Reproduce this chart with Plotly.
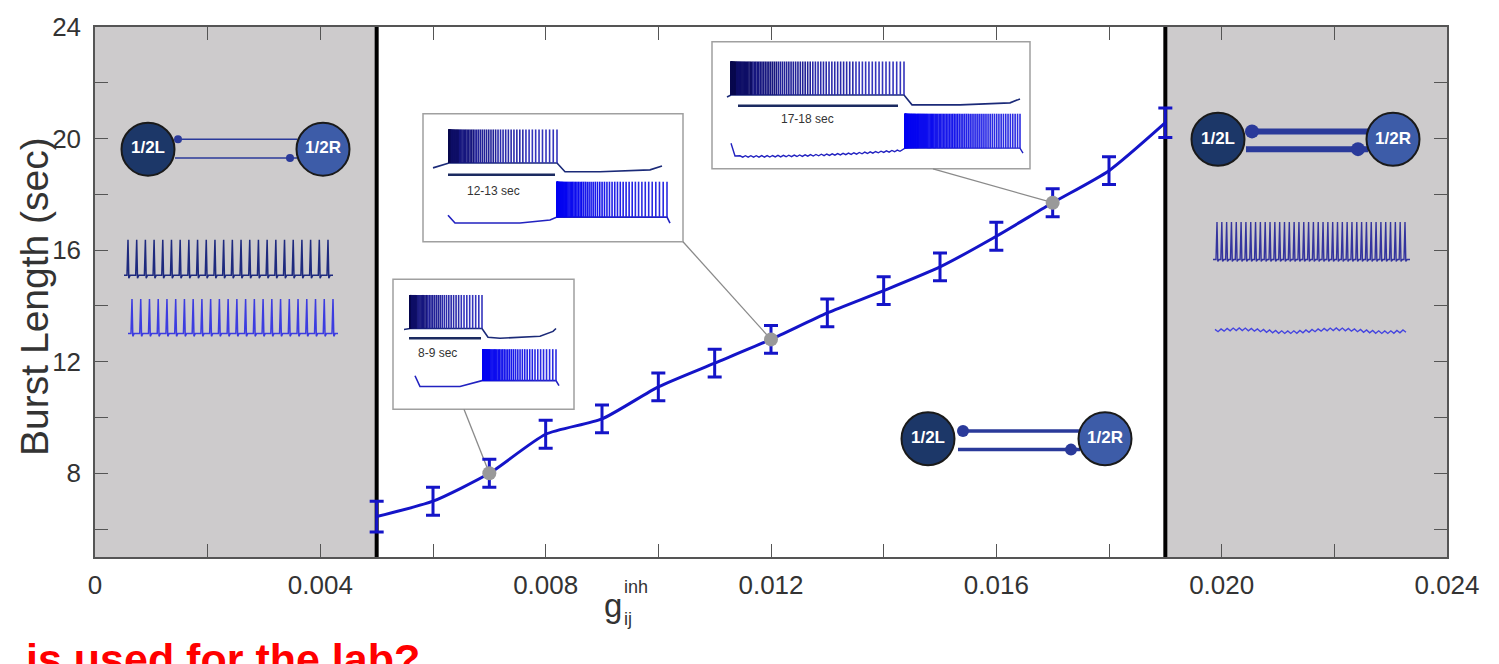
import numpy as np
import plotly.graph_objects as go

# ---------------- data ----------------
g_inh = [0.005, 0.006, 0.007, 0.008, 0.009, 0.010, 0.011, 0.012,
         0.013, 0.014, 0.015, 0.016, 0.017, 0.018, 0.019]
burst_len = [6.45, 7.0, 8.0, 9.4, 9.95, 11.1, 11.95, 12.8,
             13.75, 14.55, 15.4, 16.5, 17.7, 18.85, 20.57]
burst_sd = [0.55, 0.5, 0.5, 0.5, 0.5, 0.5, 0.5, 0.5,
            0.5, 0.5, 0.5, 0.5, 0.5, 0.5, 0.53]
example_g = [0.007, 0.012, 0.017]
example_len = [8.0, 12.8, 17.7]
example_labels = ["8-9 sec", "12-13 sec", "17-18 sec"]
x_tickvals = [0, 0.004, 0.008, 0.012, 0.016, 0.020, 0.024]
x_ticktext = ["0", "0.004", "0.008", "0.012", "0.016", "0.020", "0.024"]
y_tickvals = [8, 12, 16, 20, 24]
y_ticktext = ["8", "12", "16", "20", "24"]
shaded_left = [0, 0.005]
shaded_right = [0.019, 0.024]
x_range = [0, 0.024]
y_range = [5, 24]

# ---------------- layout geometry ----------------
W, H = 1499, 664
PX0, PX1, PY0, PY1 = 95, 1447, 19, 557     # plot area in pixels
FONT = "Liberation Sans, Arial"


def dx(px):
    return x_range[0] + (px - PX0) / (PX1 - PX0) * (x_range[1] - x_range[0])


def dy(py):
    return y_range[1] - (py - PY0) / (PY1 - PY0) * (y_range[1] - y_range[0])


def ppx(px):
    return (px - PX0) / (PX1 - PX0)


def ppy(py):
    return (PY1 - py) / (PY1 - PY0)


LINE_BLUE = "#1414c8"
NAVY = "#1b2a78"

fig = go.Figure()

# main curve with error bars
fig.add_trace(go.Scatter(
    x=g_inh, y=burst_len, mode="lines",
    line=dict(color=LINE_BLUE, width=3, shape="spline", smoothing=0.6),
    error_y=dict(type="data", array=burst_sd, color=LINE_BLUE, thickness=3, width=7),
    hoverinfo="skip", showlegend=False))
fig.add_trace(go.Scatter(
    x=example_g, y=example_len, mode="markers",
    marker=dict(color="#999999", size=14), showlegend=False, hoverinfo="skip"))

# ---------------- decoration traces on a pixel overlay axis ----------------
deco = []


def add_line(xs, ys, color, width=1.5):
    deco.append(go.Scatter(x=xs, y=ys, mode="lines", line=dict(color=color, width=width),
                           xaxis="x2", yaxis="y2", hoverinfo="skip", showlegend=False))


def spike_train(x0, x1, n, ytop, ybase, color, dip=3, width=1.5):
    xs, ys = [x0 - 4], [ybase]
    for p in np.linspace(x0, x1, n):
        xs += [p - 1.0, p, p + 0.8, p + 2.2]
        ys += [ybase, ytop, ybase + dip, ybase]
    xs.append(x1 + 5)
    ys.append(ybase)
    add_line(xs, ys, color, width)


def burst(x0, x1, ytop, ybase, n, colors, expo=2.2, width=1.6):
    t = np.linspace(0, 1, n) ** expo
    pos = x0 + (x1 - x0) * t
    chunks = np.array_split(pos, len(colors))
    for ch, c in zip(chunks, colors):
        xs, ys = [], []
        for p in ch:
            xs += [p, p, None]
            ys += [ybase, ytop, None]
        add_line(xs, ys, c, width)


dark_grad = ["#08084e", "#0e0e66", "#16167e", "#202096", "#2a2aaa", "#3434bc"]
blue_grad = ["#0000f2", "#0404f0", "#0c0cee", "#1616ea", "#2020e6", "#2a2ae2"]

# inset 1 (8-9 sec)
add_line([404, 410, 482, 488, 500, 540, 553, 556], [326, 325, 325, 334, 335, 333, 328, 325], NAVY, 1.6)
burst(410, 482, 291, 325, 50, dark_grad)
add_line([409, 481], [335, 335], "#1b2a60", 2.5)
add_line([415, 420, 460, 476, 482, 556, 559], [373, 384, 384, 380, 378, 378, 383], "#2222c0", 1.6)
burst(483, 556, 346, 378, 50, blue_grad)

# inset 2 (12-13 sec)
add_line([433, 442, 449, 557, 565, 600, 650, 662], [162, 159, 157, 157, 166, 166, 164, 160], NAVY, 1.6)
burst(449, 557, 123, 157, 64, dark_grad)
add_line([448, 555], [169, 169], "#1b2a60", 2.5)
add_line([448, 455, 520, 550, 557, 667, 670], [210, 218, 218, 215, 212, 212, 218], "#2222c0", 1.6)
burst(557, 667, 176, 212, 64, blue_grad)

# inset 3 (17-18 sec)
add_line([727, 731, 904, 912, 960, 1010, 1020], [90, 88, 88, 98, 98, 96, 92], NAVY, 1.6)
burst(731, 904, 54, 88, 90, dark_grad, expo=1.9)
add_line([738, 898], [99, 99], "#1b2a60", 2.5)
rx = list(np.linspace(740, 900, 60))
ry = [150 - 6 * (i / 59) ** 2 + (1.2 if i % 2 else -0.3) for i in range(60)]
add_line([731, 735] + rx + [905, 1020, 1023], [137, 150] + ry + [142, 142, 147], "#2222c0", 1.4)
burst(905, 1020, 107, 142, 90, blue_grad, expo=1.9)

# left gray region: two spiking cells
spike_train(128, 328, 24, 235, 271, "#1e2a7e")
spike_train(132, 333, 24, 295, 330, "#3c3ce0")
# right gray region
spike_train(1217, 1405, 40, 217, 255, "#34349e", dip=2, width=1.4)
wx = list(np.linspace(1215, 1406, 64))
wy = [327 + (1.6 if i % 2 else -1.0) - 1.5 * np.sin(i / 64 * 2 * np.pi * 2) for i in range(64)]
add_line(wx, wy, "#4444e0", 1.4)

# network diagrams
nets = [
    dict(L=148, R=323, y=143, lw=1.6, ty=133, by=152, x0=175, x1=297, d=3),
    dict(L=928, R=1105, y=437, lw=3.5, ty=429, by=448, x0=958, x1=1080, d=5),
    dict(L=1218, R=1393, y=133, lw=6, ty=125, by=143, x0=1246, x1=1368, d=6),
]
for n in nets:
    add_line([n["x0"], n["x1"]], [n["ty"], n["ty"]], "#2a3a9a", n["lw"])
    add_line([n["x0"], n["x1"]], [n["by"], n["by"]], "#2a3a9a", n["lw"])
    deco.append(go.Scatter(x=[n["x0"] + n["d"], n["x1"] - n["d"] - 4], y=[n["ty"], n["by"]], mode="markers",
                           marker=dict(color="#2a3a9a", size=2 * n["d"] + 2), xaxis="x2", yaxis="y2",
                           hoverinfo="skip", showlegend=False))
    deco.append(go.Scatter(
        x=[n["L"], n["R"]], y=[n["y"], n["y"]], mode="markers+text",
        text=["<b>1/2L</b>", "<b>1/2R</b>"], textposition="middle center",
        textfont=dict(family=FONT, size=17, color="white"),
        marker=dict(color=["#1c3768", "#3d5ca8"], size=53, line=dict(color="#1a1a1a", width=2)),
        xaxis="x2", yaxis="y2", hoverinfo="skip", showlegend=False))

for tr in deco:
    fig.add_trace(tr)

# ---------------- shapes ----------------
shapes = []
for rng in (shaded_left, shaded_right):
    shapes.append(dict(type="rect", xref="x", yref="y", x0=rng[0], x1=rng[1], y0=y_range[0], y1=y_range[1],
                       fillcolor="#cdcbcc", line=dict(width=0), layer="below"))
for xv in (shaded_left[1], shaded_right[0]):
    shapes.append(dict(type="line", xref="x", yref="y", x0=xv, x1=xv, y0=y_range[0], y1=y_range[1],
                       line=dict(color="black", width=4), layer="below"))
for (x0, y0, x1, y1) in [(393, 275, 574, 407), (423, 107, 683, 237), (712, 34, 1030, 163)]:
    shapes.append(dict(type="rect", xref="x", yref="y", x0=dx(x0), x1=dx(x1), y0=dy(y1), y1=dy(y0),
                       fillcolor="white", line=dict(color="#a0a0a0", width=1.5), layer="below"))
for (px, py), gx, gy in zip([(464, 407), (683, 237), (933, 163)], example_g, example_len):
    shapes.append(dict(type="line", xref="x", yref="y", x0=dx(px), y0=dy(py), x1=gx, y1=gy,
                       line=dict(color="#8a8a8a", width=1.3), layer="below"))

# ---------------- annotations ----------------
ann = []
for lab, (px, py) in zip(example_labels, [(416, 350), (465, 185), (779, 112)]):
    ann.append(dict(text=lab, xref="paper", yref="paper", x=ppx(px), y=ppy(py), xanchor="left",
                    yanchor="middle", showarrow=False,
                    font=dict(family=FONT, size=12, color="#333333")))
# y-axis title
ann.append(dict(text="Burst Length (sec)", xref="paper", yref="paper", x=ppx(35), y=ppy(293),
                xanchor="center", yanchor="middle", textangle=-90, showarrow=False,
                font=dict(family=FONT, size=39, color="#333333")))
# x-axis title g_ij^inh
ann.append(dict(text="g", xref="paper", yref="paper", x=ppx(613), y=ppy(606), xanchor="center",
                yanchor="middle", showarrow=False,
                font=dict(family=FONT, size=33, color="#333333")))
ann.append(dict(text="inh", xref="paper", yref="paper", x=ppx(622), y=ppy(587), xanchor="left",
                yanchor="middle", showarrow=False,
                font=dict(family=FONT, size=18, color="#333333")))
ann.append(dict(text="ij", xref="paper", yref="paper", x=ppx(622), y=ppy(620), xanchor="left",
                yanchor="middle", showarrow=False,
                font=dict(family=FONT, size=18, color="#333333")))
# red slide text, cut by the bottom edge
ann.append(dict(text="<b>is used for the lab?</b>", xref="paper", yref="paper", x=ppx(24), y=ppy(634),
                xanchor="left", yanchor="top", showarrow=False,
                font=dict(family=FONT, size=43, color="#ff0000")))

axis_common = dict(showgrid=False, zeroline=False, showline=True, linecolor="#555555", linewidth=1.5,
                   mirror="ticks", ticks="inside", ticklen=13, tickwidth=1, tickcolor="#555555",
                   tickfont=dict(family=FONT, size=26, color="#333333"))

fig.update_layout(
    width=W, height=H,
    margin=dict(l=PX0, r=W - PX1, t=PY0, b=H - PY1),
    paper_bgcolor="white", plot_bgcolor="white",
    shapes=shapes, annotations=ann, showlegend=False,
    xaxis=dict(range=x_range, tickvals=x_tickvals, ticktext=x_ticktext,
               minor=dict(ticks="inside", dtick=0.002, tick0=0, ticklen=13, tickcolor="#555555"),
               ticklabelstandoff=4, **axis_common),
    yaxis=dict(range=y_range, tickvals=y_tickvals, ticktext=y_ticktext,
               minor=dict(ticks="inside", dtick=2, tick0=0, ticklen=13, tickcolor="#555555"),
               ticklabelstandoff=7, **axis_common),
    xaxis2=dict(range=[PX0, PX1], overlaying="x", visible=False, fixedrange=True),
    yaxis2=dict(range=[PY1, PY0], overlaying="y", visible=False, fixedrange=True),
)

fig.write_html("out.html", config={"displayModeBar": False},
               post_script="document.body.style.margin='0';")
